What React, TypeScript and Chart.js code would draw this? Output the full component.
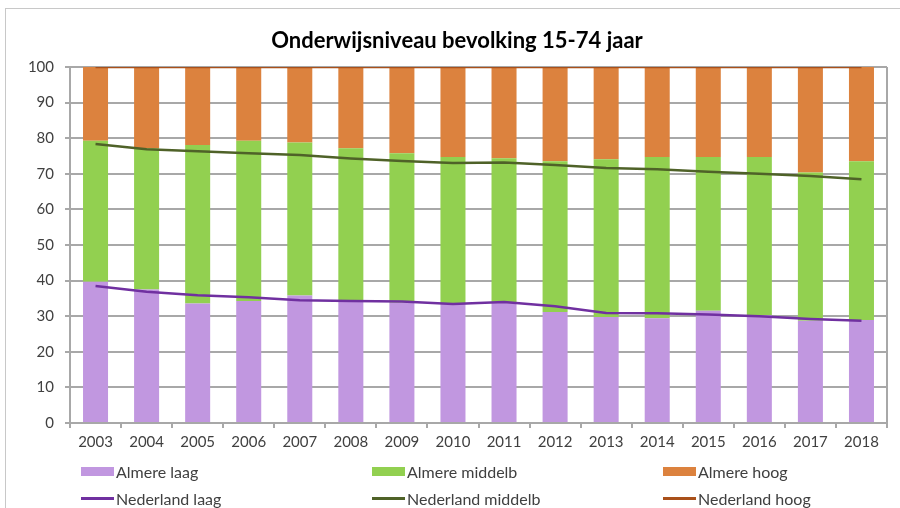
import React, { useEffect, useRef } from "react";
import { Chart, registerables } from "chart.js";

Chart.register(...registerables);

const years = ["2003", "2004", "2005", "2006", "2007", "2008", "2009", "2010", "2011", "2012", "2013", "2014", "2015", "2016", "2017", "2018"];

const almereLaag = [39.7, 37.5, 33.6, 34.3, 35.8, 34.1, 33.8, 33.4, 33.8, 31.2, 29.8, 29.4, 31.5, 30.3, 28.7, 28.9];
const almereMiddelb = [39.6, 39.7, 44.5, 45.0, 43.0, 43.1, 42.0, 41.3, 40.6, 42.3, 44.3, 45.3, 43.2, 44.4, 41.7, 44.6];
const almereHoog = [20.7, 22.8, 21.9, 20.7, 21.2, 22.8, 24.2, 25.3, 25.6, 26.5, 25.9, 25.3, 25.3, 25.3, 29.6, 26.5];

const nlLaag = [38.5, 36.9, 35.9, 35.3, 34.5, 34.3, 34.1, 33.4, 34.0, 32.8, 30.9, 30.8, 30.5, 30.0, 29.2, 28.7];
const nlMiddelb = [39.9, 40.0, 40.4, 40.5, 40.8, 40.0, 39.5, 39.6, 39.2, 39.7, 40.7, 40.5, 40.1, 40.0, 40.2, 39.8];
const nlHoog = [21.6, 23.1, 23.7, 24.2, 24.7, 25.7, 26.4, 27.0, 26.8, 27.5, 28.4, 28.7, 29.4, 30.0, 30.6, 31.5];

const yTicks = [0, 10, 20, 30, 40, 50, 60, 70, 80, 90, 100];

const title = "Onderwijsniveau bevolking 15-74 jaar";

const C_LAAG = "#c197e0";
const C_MID = "#92d050";
const C_HOOG = "#dc823e";
const L_LAAG = "#7030a0";
const L_MID = "#4f6228";
const L_HOOG = "#a9501a";

const FONT = "Lato, 'Open Sans', 'Liberation Sans', sans-serif";
const TEXT = "#404040";
const GRID = "#a8a8a8";

const legendItems = [
  { label: "Almere laag", color: C_LAAG, kind: "box" },
  { label: "Almere middelb", color: C_MID, kind: "box" },
  { label: "Almere hoog", color: C_HOOG, kind: "box" },
  { label: "Nederland laag", color: L_LAAG, kind: "line" },
  { label: "Nederland middelb", color: L_MID, kind: "line" },
  { label: "Nederland hoog", color: L_HOOG, kind: "line" },
];

export default function App() {
  const ref = useRef<HTMLCanvasElement>(null);

  useEffect(() => {
    if (!ref.current) return;
    const rightBorder = {
      id: "rightBorder",
      beforeDatasetsDraw(chart: any) {
        const { ctx, chartArea } = chart;
        ctx.save();
        ctx.strokeStyle = GRID;
        ctx.lineWidth = 2;
        ctx.beginPath();
        ctx.moveTo(chartArea.right, chartArea.top);
        ctx.lineTo(chartArea.right, chartArea.bottom);
        ctx.stroke();
        ctx.restore();
      },
    };
    const bar = (label: string, data: number[], color: string) => ({
      type: "bar" as const,
      label,
      data,
      backgroundColor: color,
      borderWidth: 0,
      stack: "almere",
      barPercentage: 1,
      categoryPercentage: 0.49,
      order: 2,
    });
    const line = (label: string, data: number[], color: string) => ({
      type: "line" as const,
      label,
      data,
      borderColor: color,
      backgroundColor: color,
      borderWidth: 2.5,
      pointRadius: 0,
      tension: 0,
      fill: false,
      stack: "nl",
      order: 1,
    });
    const chart = new Chart(ref.current, {
      type: "bar",
      data: {
        labels: years,
        datasets: [
          bar("Almere laag", almereLaag, C_LAAG),
          bar("Almere middelb", almereMiddelb, C_MID),
          bar("Almere hoog", almereHoog, C_HOOG),
          line("Nederland laag", nlLaag, L_LAAG),
          line("Nederland middelb", nlMiddelb, L_MID),
          line("Nederland hoog", nlHoog, L_HOOG),
        ] as any,
      },
      options: {
        animation: false,
        responsive: false,
        maintainAspectRatio: false,
        layout: { padding: { top: 67, right: 13, left: 0, bottom: 0 } },
        plugins: { legend: { display: false }, title: { display: false }, tooltip: { enabled: false } },
        scales: {
          x: {
            stacked: true,
            offset: true,
            grid: { display: true, drawOnChartArea: false, drawTicks: true, tickLength: 5, color: GRID, lineWidth: 2, offset: true },
            border: { display: true, color: GRID, width: 2 },
            ticks: { color: TEXT, font: { family: FONT, size: 15 }, padding: 5, maxRotation: 0, autoSkip: false },
            afterFit: (s: any) => { s.height = 85; },
          },
          y: {
            stacked: true,
            min: 0,
            max: 100,
            afterBuildTicks: (s: any) => { s.ticks = yTicks.map((v) => ({ value: v })); },
            grid: { color: GRID, lineWidth: 2, tickLength: 5, drawTicks: true },
            border: { display: true, color: GRID, width: 2 },
            ticks: { color: TEXT, font: { family: FONT, size: 15 }, padding: 11 },
            afterFit: (s: any) => { s.width = 70; },
          },
        },
      },
      plugins: [rightBorder],
    });
    return () => chart.destroy();
  }, []);

  const cols = [81, 372, 663];

  return (
    <div style={{ position: "absolute", left: 0, top: 0, width: 900, height: 508, background: "#fff", overflow: "hidden", fontFamily: FONT }}>
      <div style={{ position: "absolute", left: 5, top: 8, width: 1000, height: 600, borderLeft: "1.5px solid #c8c8c8", borderTop: "1.5px solid #c8c8c8" }} />
      <canvas ref={ref} width={900} height={508} style={{ position: "absolute", left: 0, top: 0 }} />
      <div style={{ position: "absolute", left: 0, width: 914, top: 25, textAlign: "center", fontWeight: 700, fontSize: 22, color: "#000", lineHeight: "30px" }}>{title}</div>
      {legendItems.map((it, i) => {
        const col = i % 3;
        const row = Math.floor(i / 3);
        const cy = row === 0 ? 471 : 498;
        return (
          <div key={it.label} style={{ position: "absolute", left: cols[col], top: cy - 11, height: 22, display: "flex", alignItems: "center", fontSize: 16, color: TEXT, whiteSpace: "nowrap" }}>
            {it.kind === "box" ? (
              <span style={{ display: "inline-block", width: 33, height: 9, background: it.color }} />
            ) : (
              <span style={{ display: "inline-block", width: 33, height: 3, background: it.color }} />
            )}
            <span style={{ marginLeft: 2 }}>{it.label}</span>
          </div>
        );
      })}
    </div>
  );
}
